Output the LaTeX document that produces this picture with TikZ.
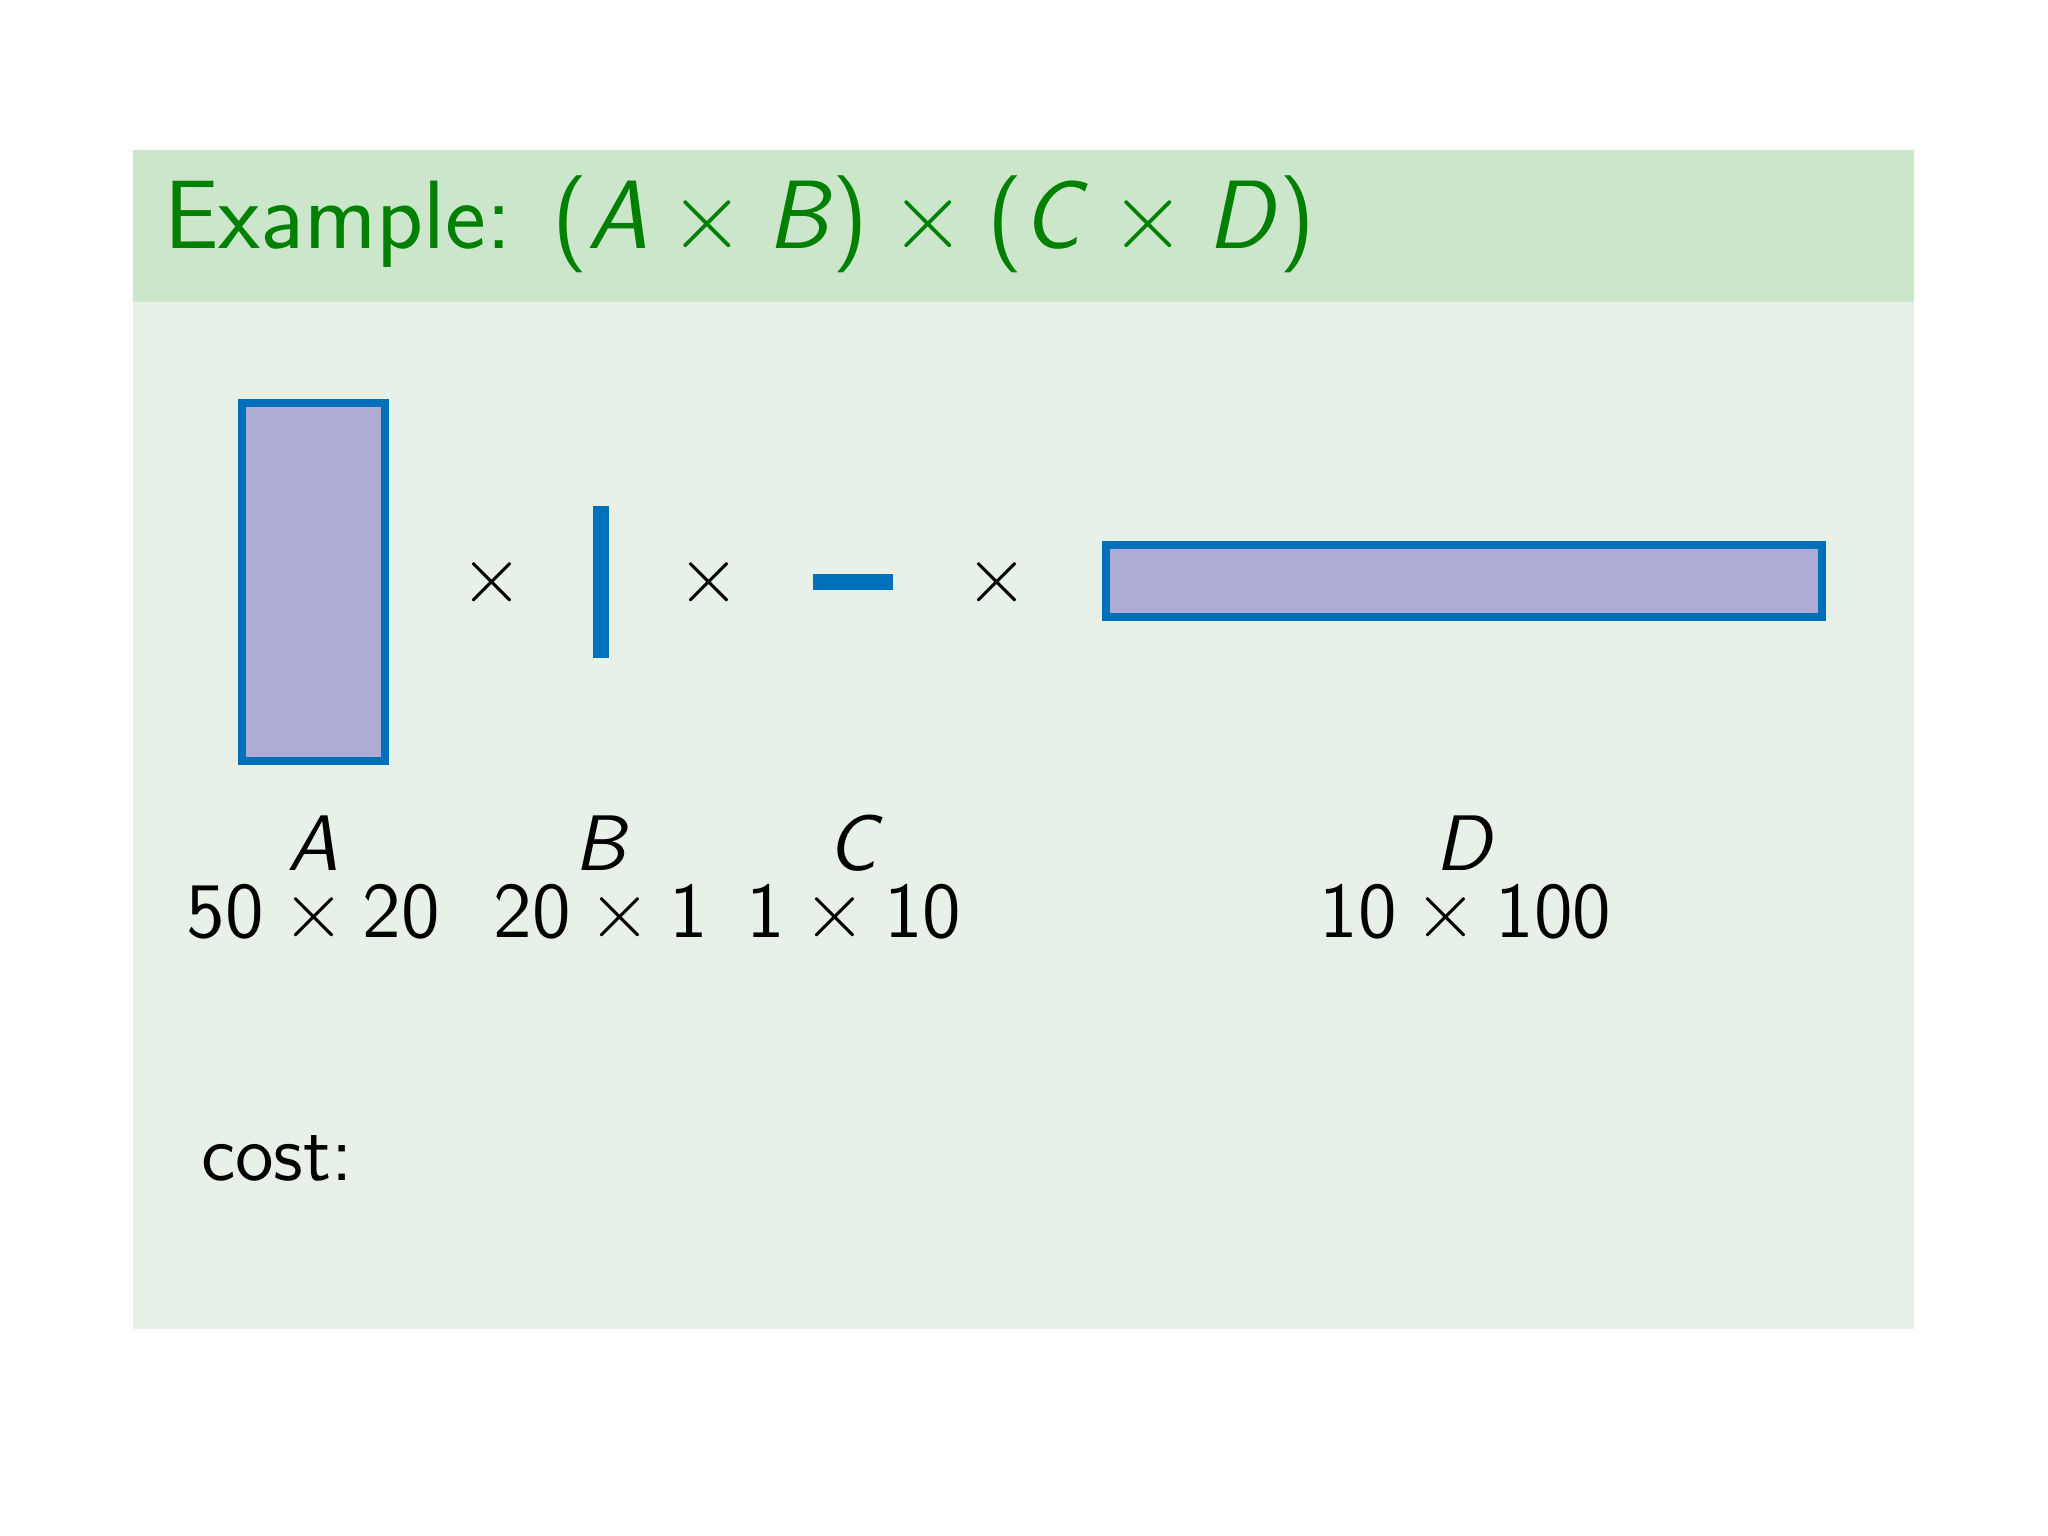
\documentclass[tikz,border=0pt]{standalone}
\usepackage{amsmath}
\usepackage{tikz}

\definecolor{titlegreen}{RGB}{0,128,0}
\definecolor{blocktitle}{RGB}{204,230,204}
\definecolor{blockbody}{RGB}{232,241,232}
\definecolor{matfill}{RGB}{173,171,212}
\definecolor{matedge}{RGB}{0,112,186}

\newcommand{\mv}[1]{\mbox{\itshape #1\/}}
\newcommand{\mn}[1]{\mbox{#1}}

\tikzset{
  slidefont/.style={font=\fontsize{14pt}{17pt}\selectfont\sffamily},
  matbox/.style={draw=matedge, fill=matfill, line width=0.5mm, inner sep=0pt, outer sep=0pt},
  timessign/.style={slidefont, inner sep=0pt},
  dimlabel/.style={slidefont, inner sep=0pt, anchor=base}
}

\begin{document}
\begin{tikzpicture}[x=0.0625mm, y=-0.0625mm]

\useasboundingbox (0,0) rectangle (2048,1536);

\fill[blockbody] (133,302) rectangle (1914,1329);
\fill[blocktitle] (133,150) rectangle (1914,302);

\node[anchor=base west, inner sep=0pt, text=titlegreen, font=\fontsize{17.28pt}{21pt}\selectfont\sffamily] (title) at (163,248)
  {Example: $\mn{(}\mv{A}\times\mv{B}\mn{)}\times\mn{(}\mv{C}\times\mv{D}\mn{)}$};

% the four matrices
\node[matbox, minimum width=8.94mm, minimum height=22.34mm] (A) at (313.5,582) {};
\node[matbox, minimum width=0.45mm, minimum height=8.94mm] (B) at (601,582) {};
\node[matbox, minimum width=4.47mm, minimum height=0.45mm] (C) at (853,582) {};
\node[matbox, minimum width=44.7mm, minimum height=4.47mm] (D) at (1464,581) {};

\node[timessign] (t1) at (492,582) {$\times$};
\node[timessign] (t2) at (709,582) {$\times$};
\node[timessign] (t3) at (997,582) {$\times$};

% names and sizes
\node[dimlabel] (nA) at (313,870) {\mv{A}};
\node[dimlabel] (nB) at (602,870) {\mv{B}};
\node[dimlabel] (nC) at (855,870) {\mv{C}};
\node[dimlabel] (nD) at (1466,870) {\mv{D}};

\node[dimlabel] (sA) at (313.5,937) {$\mn{50}\times\mn{20}$};
\node[dimlabel] (sB) at (601,937) {$\mn{20}\times\mn{1}$};
\node[dimlabel] (sC) at (854,937) {$\mn{1}\times\mn{10}$};
\node[dimlabel] (sD) at (1465.5,937) {$\mn{10}\times\mn{100}$};

\node[slidefont, anchor=base west, inner sep=0pt] (cost) at (200,1180) {cost:};

\end{tikzpicture}
\end{document}
